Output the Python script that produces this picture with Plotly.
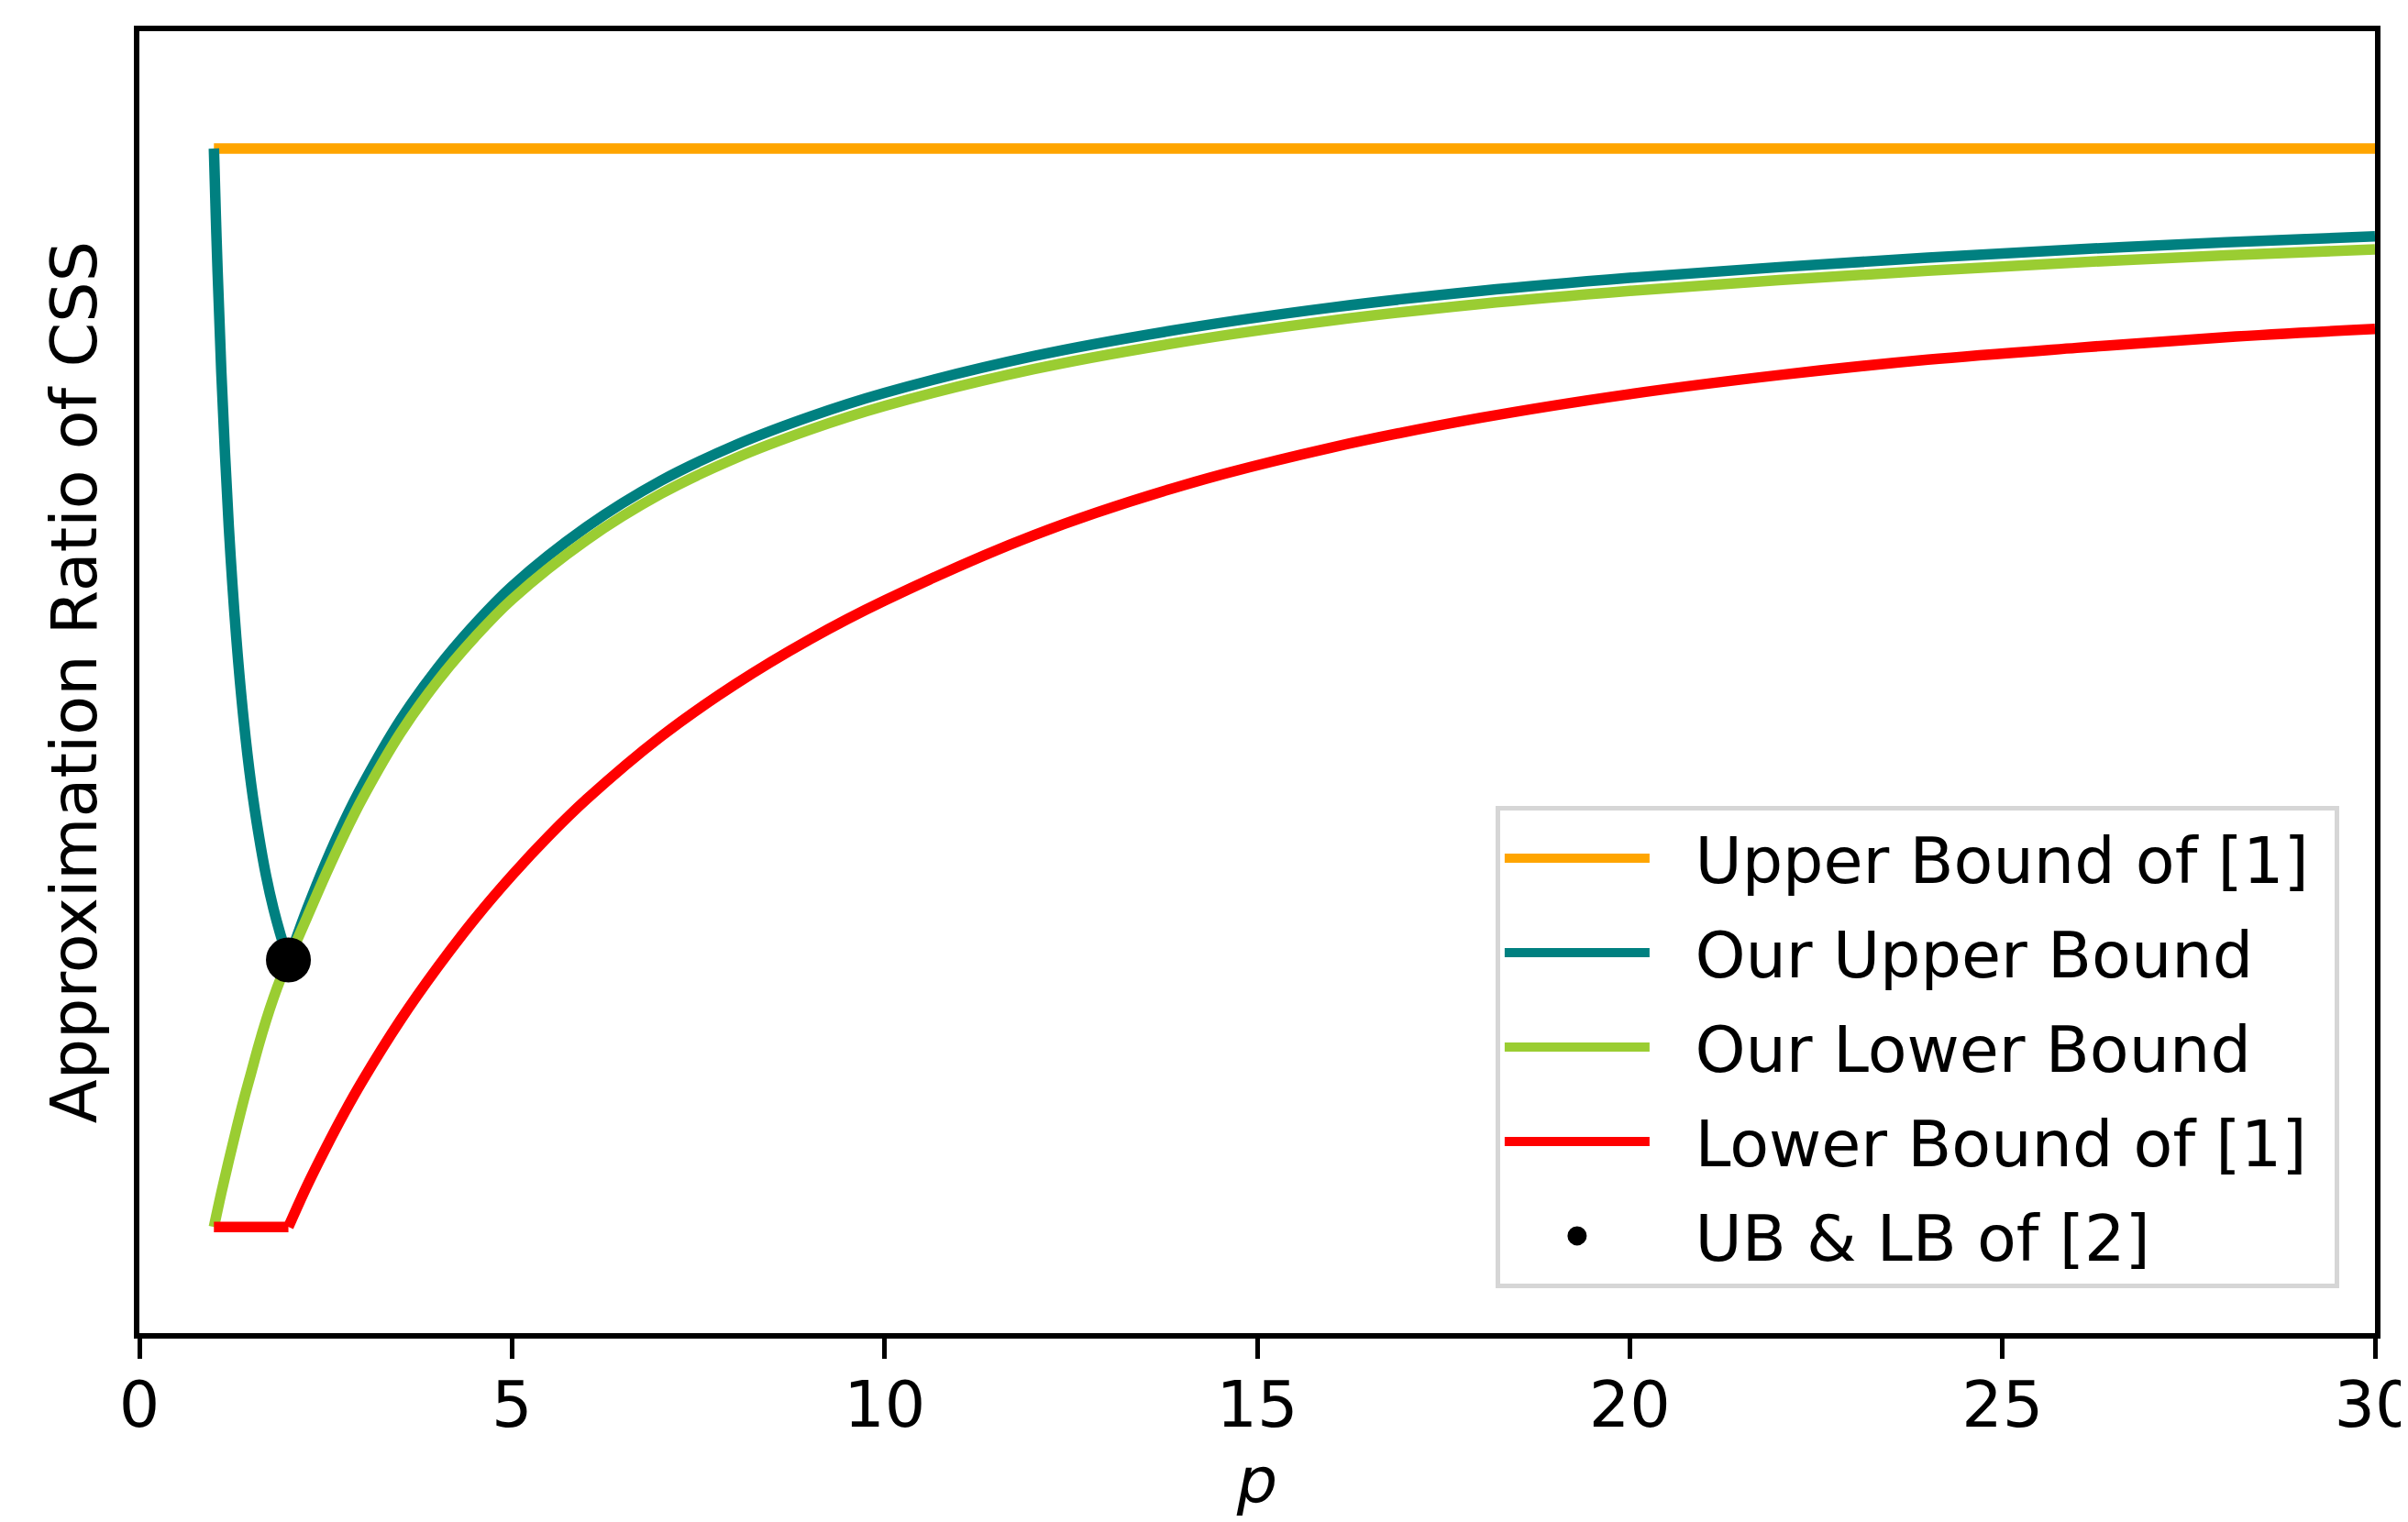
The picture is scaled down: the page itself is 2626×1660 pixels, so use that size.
import plotly.graph_objects as go

# ---- data (y axis unlabeled; units: ratio) ----
p_orange = [1.0, 30.0]
ub1 = [10.0, 10.0]

# Our upper bound: falling branch (p in [1,2]) and rising branch (p in [2,30])
p_teal_a = [1.0, 1.025, 1.05, 1.1, 1.2, 1.3, 1.4, 1.5, 1.6, 1.7, 1.8, 1.9, 2.0]
our_ub_a = [10.0, 9.45, 8.96, 8.11, 6.81, 5.88, 5.18, 4.64, 4.22, 3.87, 3.59, 3.36, 3.16]
p_teal_b = [2.0, 2.25, 2.5, 2.75, 3.0, 3.5, 4.0, 4.5, 5.0, 6.0, 7.0, 8.0, 9.0, 10.0,
            12.0, 14.0, 16.0, 18.0, 20.0, 22.0, 24.0, 26.0, 28.0, 30.0]
our_ub_b = [3.16, 3.59, 3.98, 4.33, 4.64, 5.18, 5.62, 5.99, 6.31, 6.81, 7.20, 7.50, 7.74, 7.94,
            8.25, 8.48, 8.66, 8.80, 8.91, 9.00, 9.08, 9.15, 9.21, 9.26]

p_green = [1.0, 1.1, 1.2, 1.3, 1.4, 1.5, 1.6, 1.7, 1.8, 1.9, 2.0,
           2.25, 2.5, 2.75, 3.0, 3.5, 4.0, 4.5, 5.0, 6.0, 7.0, 8.0, 9.0, 10.0,
           12.0, 14.0, 16.0, 18.0, 20.0, 22.0, 24.0, 26.0, 28.0, 30.0]
our_lb = [0.91, 1.20, 1.47, 1.73, 1.98, 2.21, 2.44, 2.65, 2.84, 3.01, 3.16,
          3.52, 3.88, 4.22, 4.53, 5.07, 5.51, 5.88, 6.20, 6.70, 7.09, 7.39, 7.63, 7.83,
          8.14, 8.37, 8.55, 8.69, 8.80, 8.89, 8.97, 9.04, 9.10, 9.15]

# Lower bound of [1]: flat part (p in [1,2]) and rising part (p in [2,30])
p_red_a = [1.0, 2.0]
lb1_a = [0.91, 0.91]
p_red_b = [2.0, 2.25, 2.5, 2.75, 3.0, 3.5, 4.0, 4.5, 5.0, 5.5, 6.0, 7.0, 8.0, 9.0,
           10.0, 12.0, 14.0, 16.0, 18.0, 20.0, 22.0, 24.0, 26.0, 28.0, 30.0]
lb1_b = [0.91, 1.257, 1.574, 1.872, 2.148, 2.650, 3.097, 3.505, 3.873, 4.209, 4.514, 5.044,
         5.486, 5.864, 6.19, 6.74, 7.16, 7.48, 7.73, 7.93, 8.09, 8.22, 8.32, 8.41, 8.48]

p_dot = [2.0]
ub_lb2 = [3.16]

names = ["Upper Bound of [1]", "Our Upper Bound", "Our Lower Bound", "Lower Bound of [1]", "UB & LB of [2]"]
colors = ["#FFA500", "#008080", "#9ACD32", "#FF0000", "#000000"]
x_ticks = [0, 5, 10, 15, 20, 25, 30]

FONT = "DejaVu Sans"
FS = 70
LW = 11.5
PAD = "  "  # gap between legend line sample and label


def label(i):
    return PAD + names[i] + " "


fig = go.Figure()


def add_line(xs, ys, idx, shape="linear", show=True):
    fig.add_trace(go.Scatter(x=xs, y=ys, mode="lines", name=label(idx),
                             legendgroup=f"g{idx}", showlegend=show,
                             line=dict(color=colors[idx], width=LW, shape=shape)))


add_line(p_orange, ub1, 0)
add_line(p_teal_a, our_ub_a, 1, "spline")
add_line(p_teal_b, our_ub_b, 1, "spline", show=False)
add_line(p_green, our_lb, 2, "spline")
add_line(p_red_a, lb1_a, 3)
add_line(p_red_b, lb1_b, 3, "spline", show=False)
fig.add_trace(go.Scatter(x=p_dot, y=ub_lb2, mode="markers", name=label(4), legendgroup="g4",
                         marker=dict(color=colors[4], size=44,
                                     line=dict(width=5, color=colors[4]))))

fig.update_layout(
    width=2626, height=1660,
    margin=dict(l=144, r=44, t=26, b=214),
    paper_bgcolor="white", plot_bgcolor="white",
    font=dict(family=FONT, size=FS, color="black"),
    showlegend=True,
    legend=dict(x=0.6066, y=0.405, xanchor="left", yanchor="top",
                bgcolor="white", bordercolor="#d6d6d6", borderwidth=5,
                font=dict(family=FONT, size=FS, color="black"),
                tracegroupgap=9, itemwidth=158),
)
fig.update_xaxes(range=[0, 30], tickvals=x_ticks, ticktext=[str(t) for t in x_ticks],
                 showgrid=False, zeroline=False, showline=True, linecolor="black",
                 linewidth=6, mirror=True, ticks="outside", ticklen=22, tickwidth=5,
                 tickcolor="black", tickfont=dict(family=FONT, size=FS),
                 ticklabeloverflow="allow", ticklabelstandoff=-10, automargin=False,
                 title=dict(text="<i>p</i>", font=dict(family=FONT, size=FS), standoff=20))
fig.update_yaxes(range=[0.015, 10.989], showgrid=False, zeroline=False, showline=True,
                 linecolor="black", linewidth=6, mirror=True, ticks="", showticklabels=False,
                 automargin=False,
                 title=dict(text="Approximation Ratio of CSS", font=dict(family=FONT, size=FS), standoff=20))

fig.write_html("out.html")
